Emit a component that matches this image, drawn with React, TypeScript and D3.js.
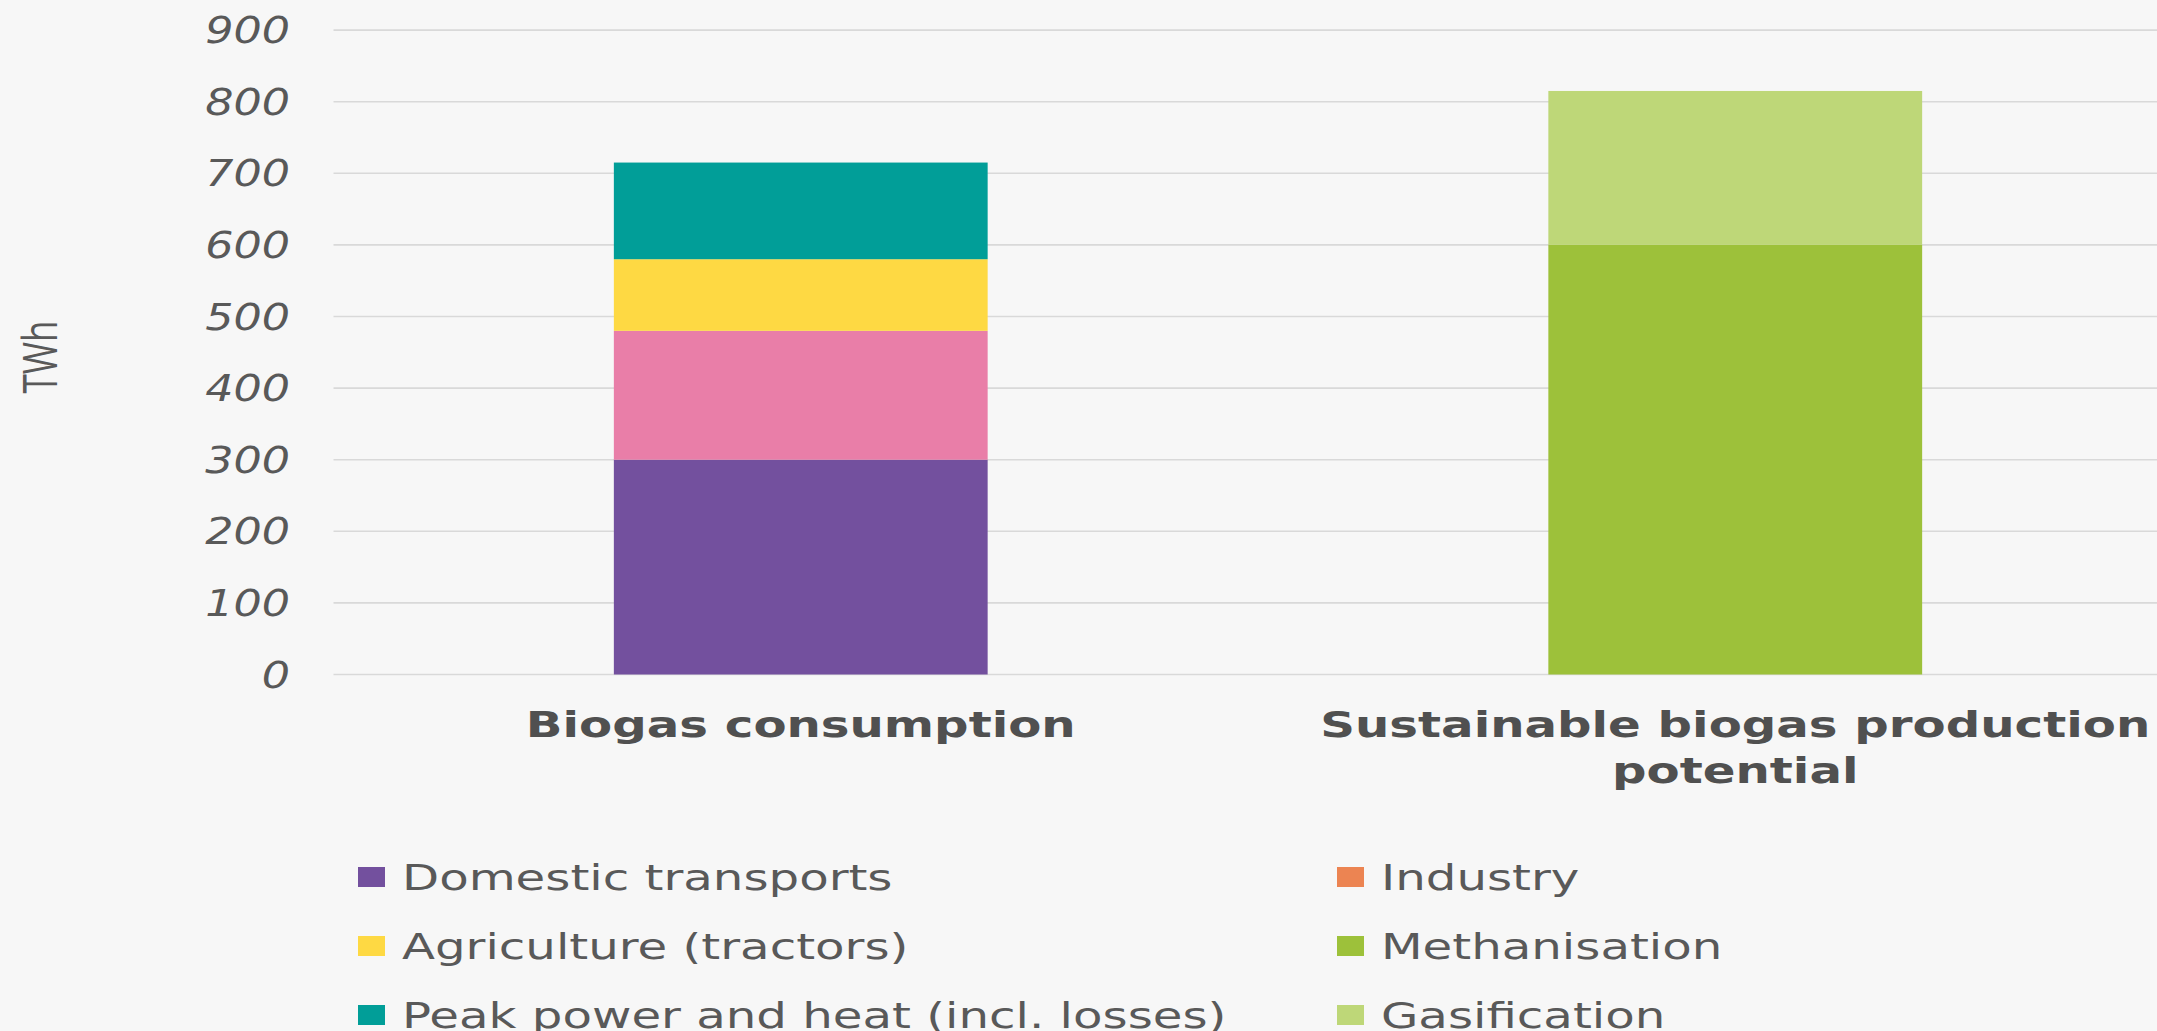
import React from "react";
import * as d3 from "d3";

// ---- data ----
const categories = ["Biogas consumption", "Sustainable biogas production potential"];
const categoryLines = [["Biogas consumption"], ["Sustainable biogas production", "potential"]];
const seriesNames = [
  "Domestic transports",
  "Industry",
  "Agriculture (tractors)",
  "Methanisation",
  "Peak power and heat (incl. losses)",
  "Gasification",
];
const domesticTransports = [300, 0];
const industry = [180, 0];
const agriculture = [100, 0];
const methanisation = [0, 600];
const peakPower = [135, 0];
const gasification = [0, 215];
const yTicks = [0, 100, 200, 300, 400, 500, 600, 700, 800, 900];
const legendOrder = [
  ["Domestic transports", "Agriculture (tractors)", "Peak power and heat (incl. losses)"],
  ["Industry", "Methanisation", "Gasification"],
];

const barColors: Record<string, string> = {
  "Domestic transports": "#73509e",
  Industry: "#e97ea8",
  "Agriculture (tractors)": "#fed943",
  Methanisation: "#9dc13a",
  "Peak power and heat (incl. losses)": "#019e98",
  Gasification: "#bed778",
};
const legendColors: Record<string, string> = {
  ...barColors,
  Industry: "#ec8452",
};

const W = 2157;
const H = 1031;
const SX = 1.34; // horizontal stretch of the original picture
const FONT = "'DejaVu Sans', Verdana, sans-serif";

function SText({ x, y, anchor = "start", size, weight = "normal", italic = false, fill = "#595959", sx = SX, children }: any) {
  return (
    <g transform={`translate(${x},${y}) scale(${sx},1)`}>
      <text
        textAnchor={anchor}
        fontFamily={FONT}
        fontSize={size}
        fontWeight={weight}
        fontStyle={italic ? "italic" : "normal"}
        fill={fill}
      >
        {children}
      </text>
    </g>
  );
}

export default function App() {
  const rows = categories.map((c, i) => ({
    category: c,
    "Domestic transports": domesticTransports[i],
    Industry: industry[i],
    "Agriculture (tractors)": agriculture[i],
    Methanisation: methanisation[i],
    "Peak power and heat (incl. losses)": peakPower[i],
    Gasification: gasification[i],
  }));
  const stacked = d3.stack<any>().keys(seriesNames)(rows);

  const x = d3.scaleBand<string>().domain(categories).range([333.5, 2202.5]).paddingInner(0.6).paddingOuter(0.3);
  const y = d3.scaleLinear().domain([0, 900]).range([674.5, 30.1]);

  return (
    <div style={{ position: "absolute", left: 0, top: 0 }}>
      <svg width={W} height={H} style={{ display: "block" }}>
        <rect x={0} y={0} width={W} height={H} fill="#f7f7f7" />
        {yTicks.map((t) => (
          <line key={t} x1={x.range()[0]} x2={x.range()[1]} y1={y(t)} y2={y(t)} stroke="#d9d9d9" strokeWidth={1.6} />
        ))}
        {yTicks.map((t) => (
          <SText key={t} x={290} y={y(t) + 13} anchor="end" size={37} sx={1.2} italic>
            {t}
          </SText>
        ))}
        <g transform={`translate(57,357) scale(${SX},1) rotate(-90)`}>
          <text textAnchor="middle" fontFamily="'Open Sans', sans-serif" fontSize={35} fill="#595959">
            TWh
          </text>
        </g>
        {stacked.map((s) => (
          <g key={s.key}>
            {s.map((d, i) =>
              d[1] - d[0] > 0 ? (
                <rect
                  key={i}
                  x={x(categories[i])}
                  width={x.bandwidth()}
                  y={y(d[1])}
                  height={y(d[0]) - y(d[1])}
                  fill={barColors[s.key]}
                />
              ) : null
            )}
          </g>
        ))}
        {categories.map((c, i) =>
          categoryLines[i].map((line, j) => (
            <SText
              key={c + j}
              x={(x(c) as number) + x.bandwidth() / 2}
              y={737 + j * 46}
              anchor="middle"
              size={36}
              weight="bold"
              fill="#505050"
            >
              {line}
            </SText>
          ))
        )}
        {legendOrder.map((col, ci) =>
          col.map((name, ri) => {
            const lx = ci === 0 ? 358 : 1337;
            const cy = 877 + ri * 69;
            return (
              <g key={name}>
                <rect x={lx} y={cy - 10} width={27} height={20} fill={legendColors[name]} />
                <SText x={lx + 44} y={cy + 13} size={36}>
                  {name}
                </SText>
              </g>
            );
          })
        )}
      </svg>
    </div>
  );
}
